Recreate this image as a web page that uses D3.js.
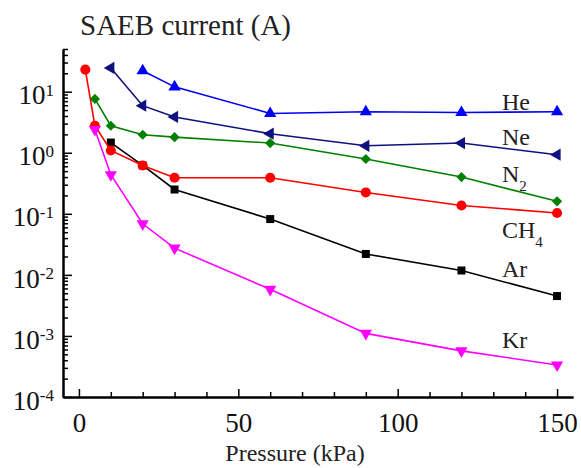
<!DOCTYPE html>
<html><head><meta charset="utf-8">
<script src="https://cdn.jsdelivr.net/npm/d3@7"></script>
<style>
html,body{margin:0;padding:0;background:#fff;}
svg{display:block;}
</style></head>
<body><svg id="c" width="581" height="468"></svg>
<script>
// Data (pressure in kPa, SAEB current in A)
const heX = [20, 30, 60, 90, 120, 150];
const heY = [22, 12, 4.4, 4.7, 4.55, 4.7];
const neX = [10, 20, 30, 60, 90, 120, 150];
const neY = [24.5, 5.9, 3.85, 2.05, 1.3, 1.44, 0.93];
const n2X = [5, 10, 20, 30, 60, 90, 120, 150];
const n2Y = [7.6, 2.77, 1.97, 1.8, 1.44, 0.79, 0.4, 0.16];
const ch4X = [2, 5, 10, 20, 30, 60, 90, 120, 150];
const ch4Y = [23, 2.77, 1.09, 0.62, 0.39, 0.39, 0.224, 0.137, 0.103];
const arX = [10, 20, 30, 60, 90, 120, 150];
const arY = [1.47, 0.62, 0.25, 0.082, 0.022, 0.0118, 0.0045];
const krX = [5, 10, 20, 30, 60, 90, 120, 150];
const krY = [2.4, 0.436, 0.0686, 0.0274, 0.0058, 0.0011, 0.00057, 0.000335];

const xMajor = [0, 50, 100, 150];
const xMinor = [10, 20, 30, 40, 60, 70, 80, 90, 110, 120, 130, 140];
const yMajorExp = [-4, -3, -2, -1, 0, 1];
const title = "SAEB current (A)";
const xTitle = "Pressure (kPa)";

const series = [
  {name:"Ar", sub:"", xs:arX, ys:arY, color:"#000000", sym:d3.symbolSquare, size:64, rot:0, lx:502, ly:277},
  {name:"CH", sub:"4", xs:ch4X, ys:ch4Y, color:"#ff0000", sym:d3.symbolCircle, size:80, rot:0, lx:502, ly:238},
  {name:"Kr", sub:"", xs:krX, ys:krY, color:"#ff00ff", sym:d3.symbolTriangle, size:65, rot:180, lx:502, ly:348},
  {name:"N", sub:"2", xs:n2X, ys:n2Y, color:"#008000", sym:d3.symbolSquare, size:52, rot:45, lx:502, ly:182},
  {name:"Ne", sub:"", xs:neX, ys:neY, color:"#10107f", sym:d3.symbolTriangle, size:65, rot:-90, lx:502, ly:145},
  {name:"He", sub:"", xs:heX, ys:heY, color:"#0000f5", sym:d3.symbolTriangle, size:65, rot:0, lx:502, ly:110}
];

const svg = d3.select("#c");
const x = d3.scaleLinear().domain([-5, 155]).range([63, 573]);
const y = d3.scaleLog().domain([1e-4, 50]).range([397, 49]);

const yMinor = [];
for (let e = -4; e <= 1; e++) for (let m = 2; m <= 9; m++) { const v = m * Math.pow(10, e); if (v <= 50) yMinor.push(v); }

// axes
const gx = svg.append("g").attr("transform", "translate(0,397)");
gx.call(d3.axisBottom(x).tickValues(xMinor).tickSize(-5).tickSizeOuter(0).tickFormat(""));
gx.append("g").call(d3.axisBottom(x).tickValues(xMajor).tickSize(-8).tickSizeOuter(0).tickPadding(16).tickFormat(d3.format("d")));
gx.selectAll("path").attr("stroke", "#000").attr("stroke-width", 2);
gx.selectAll("line").attr("stroke", "#000").attr("stroke-width", 1.5);
gx.selectAll("text").attr("font-size", 27).attr("fill", "#111");

const gy = svg.append("g").attr("transform", "translate(63,0)");
gy.call(d3.axisLeft(y).tickValues(yMinor).tickSize(-5).tickSizeOuter(0).tickFormat(""));
const gyM = gy.append("g").call(d3.axisLeft(y).tickValues(yMajorExp.map(e => Math.pow(10, e))).tickSize(-9).tickSizeOuter(0).tickPadding(9).tickFormat(""));
gy.selectAll("path").attr("stroke", "#000").attr("stroke-width", 2);
gy.selectAll("line").attr("stroke", "#000").attr("stroke-width", 1.5);
gyM.selectAll(".tick text").each(function(d) {
  const t = d3.select(this);
  const e = Math.round(Math.log10(d));
  t.text(null).attr("font-size", 27).attr("fill", "#111").attr("dy", "0.45em");
  t.append("tspan").text("10");
  t.append("tspan").attr("font-size", 17).attr("dy", "-0.5em").text(String(e));
});
svg.selectAll(".domain").attr("fill", "none");

// series lines and markers
const line = d3.line().x(d => x(d[0])).y(d => y(d[1]));
series.forEach(s => {
  const pts = s.xs.map((v, i) => [v, s.ys[i]]);
  svg.append("path").datum(pts).attr("d", line).attr("fill", "none")
     .attr("stroke", s.color).attr("stroke-width", 1.6);
  svg.append("g").selectAll("path").data(pts).join("path")
     .attr("d", d3.symbol().type(s.sym).size(s.size))
     .attr("transform", d => `translate(${x(d[0])},${y(d[1])}) rotate(${s.rot})`)
     .attr("fill", s.color);
  const t = svg.append("text").attr("x", s.lx).attr("y", s.ly).attr("font-size", 24).attr("fill", "#222");
  t.append("tspan").text(s.name);
  if (s.sub) t.append("tspan").attr("font-size", 15).attr("dy", 9).text(s.sub);
});

// titles
svg.append("text").attr("x", 80).attr("y", 35).attr("font-size", 29).attr("fill", "#222").text(title);
svg.append("text").attr("x", 295).attr("y", 461).attr("text-anchor", "middle").attr("font-size", 24).attr("fill", "#222").text(xTitle);

svg.selectAll("text").style("font-family", "Liberation Serif");
</script></body></html>
